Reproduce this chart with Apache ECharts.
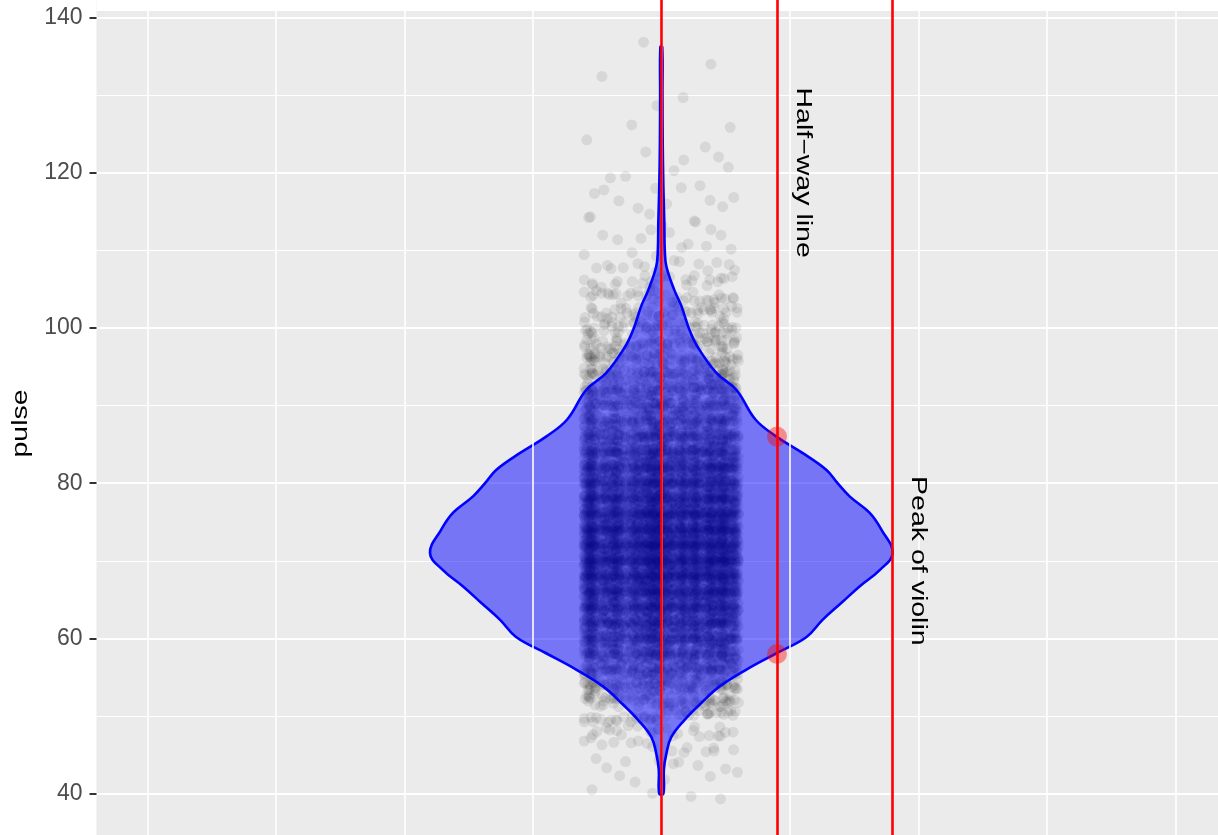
<!DOCTYPE html>
<html>
<head>
<meta charset="utf-8">
<script src="https://cdn.jsdelivr.net/npm/echarts@6/dist/echarts.min.js"></script>
<style>
  html, body { margin: 0; padding: 0; background: #fff; }
  #chart { width: 1218px; height: 835px; }
</style>
</head>
<body>
<div id="chart"></div>
<script>
// violin outline: pulse level and relative width (1 = widest point)
const violinPulse = [40, 43.1, 45.2, 47.3, 49.5, 51.7, 53.8, 56.0, 58.1, 60.2, 62.4, 64.6, 66.7, 68.8, 71.0,
  74.0, 76.2, 78.3, 80.0, 81.7, 83.9, 86.0, 88.2, 92.0, 94.2, 97.6, 99.8, 102.8, 104.9, 107.9, 110,
  113.5, 118, 124, 130, 136.2]
const violinDensity = [0.009, 0.011, 0.022, 0.043, 0.100, 0.173, 0.251, 0.368, 0.498, 0.628, 0.697, 0.779,
  0.857, 0.944, 1.000, 0.952, 0.900, 0.814, 0.762, 0.714, 0.610, 0.498, 0.407, 0.325, 0.238, 0.156,
  0.121, 0.087, 0.056, 0.022, 0.015, 0.013, 0.009, 0.006, 0.005, 0.004]

// jittered observations: pulse value and how many at that value (estimated)
const pulseBins = [40, 42, 44, 46, 48, 50, 52, 54, 56, 58, 60, 62, 64, 66, 68, 70, 72, 74, 76, 78, 80,
  82, 84, 86, 88, 90, 92, 94, 96, 98, 100, 102, 104, 106, 108, 110, 112, 114, 116, 118, 120, 122, 124,
  126, 128, 130, 132, 134, 136]
const binCounts = [4, 5, 8, 14, 25, 45, 80, 120, 175, 235, 295, 330, 370, 410, 450, 480, 470, 455, 430,
  390, 365, 340, 290, 240, 195, 170, 150, 115, 90, 75, 65, 50, 38, 25, 14, 7, 7, 6, 6, 5, 4, 3, 2, 2,
  1, 1, 1, 1, 1]

// fixed jitter offsets (fractions of jitter width / height)
const xJit = [-0.93, 0.41, -0.12, 0.78, -0.55, 0.05, 0.97, -0.33, 0.62, -0.71, 0.24, -0.86, 0.49, -0.04,
  0.85, -0.47, 0.16, -0.64, 0.71, -0.21, 0.33, -0.99, 0.57, -0.38, 0.92, -0.08, 0.28, -0.77, 0.66,
  -0.27, 0.11, -0.59, 0.8, -0.16, 0.44, -0.9, 0.0]
const xFine = [0.021, -0.013, 0.004, -0.025, 0.017, -0.006, 0.011, -0.019, 0.027, -0.001, -0.028]
const xFine2 = [0.009, -0.011, 0.002, 0.013, -0.007, -0.002, 0.006]
const yJit = [0.62, -0.35, 0.08, -0.88, 0.45, -0.12, 0.91, -0.6, 0.27, -0.77, 0.02, 0.74, -0.43, 0.36,
  -0.95, 0.18, -0.24, 0.83, -0.52, 0.54, -0.05, 0.97, -0.69]
const yFine = [0.04, -0.07, 0.01, 0.08, -0.03, -0.09, 0.06, -0.01, 0.03, -0.05, 0.09, -0.06, 0.0]

const groupX = 1
const violinHalf = 0.45
const jitterW = 0.15
const jitterH = 0.8

const xGridValues = [0, 0.25, 0.5, 0.75, 1, 1.25, 1.5, 1.75, 2]
const redLineX = [1, 1.225, 1.45]
const halfPoints = [[1.225, 86], [1.225, 58]]
const annotations = [[1.275, 120, 'Half−way line'], [1.5, 70, 'Peak of violin']]

const FONT = 'Liberation Sans, Arial, Helvetica, sans-serif'

const clamp1 = v => Math.max(-1, Math.min(1, v))
const jitterData = []
let g = 0
pulseBins.forEach((v, i) => {
  for (let k = 0; k < binCounts[i]; k++) {
    const dx = xJit[g % xJit.length] + xFine[g % xFine.length] + xFine2[g % xFine2.length]
    const dy = yJit[g % yJit.length] + yFine[g % yFine.length]
    jitterData.push([groupX + jitterW * clamp1(dx), v + jitterH * clamp1(dy)])
    g++
  }
})

const myChart = echarts.init(document.getElementById('chart'))

const option = {
  animation: false,
  grid: {
    show: true,
    backgroundColor: '#ebebeb',
    borderWidth: 0,
    left: 96.5,
    right: 0,
    top: -138,
    bottom: -114.1,
    outerBoundsMode: 'none'
  },
  xAxis: {
    type: 'value',
    min: -0.0988,
    max: 2.083,
    show: false,
    splitLine: { show: false }
  },
  yAxis: {
    type: 'value',
    min: 20,
    max: 160,
    interval: 20,
    axisLine: { show: false, onZero: false },
    axisTick: { show: true, length: 7, lineStyle: { color: '#333333', width: 2 } },
    axisLabel: { fontSize: 23, color: '#4d4d4d', margin: 14, fontFamily: FONT },
    splitLine: { show: true, lineStyle: { color: '#ffffff', width: 2.2 } },
    minorTick: { show: false, splitNumber: 2 },
    minorSplitLine: { show: true, lineStyle: { color: '#ffffff', width: 1.1 } }
  },
  graphic: [
    {
      type: 'rect', x: 96.5, y: 0, z: 100,
      shape: { width: 1130, height: 11 },
      style: { fill: '#ffffff' }
    },
    {
      type: 'text', x: 21, y: 423.5, rotation: Math.PI / 2, scaleY: 0.75,
      style: { text: 'pulse', fontSize: 28.5, fontFamily: FONT, fill: '#000000', align: 'center', verticalAlign: 'middle' }
    }
  ],
  series: [
    {
      // vertical grid lines
      type: 'line', data: [], z: 1, silent: true,
      markLine: {
        silent: true, symbol: 'none', label: { show: false }, precision: 6,
        lineStyle: { color: '#ffffff', width: 1.6, type: 'solid' },
        data: xGridValues.map(v => ({ xAxis: v }))
      }
    },
    {
      type: 'scatter', z: 2, silent: true,
      symbol: 'circle', symbolSize: 11,
      itemStyle: { color: 'rgba(0,0,0,0.1)' },
      data: jitterData
    },
    {
      type: 'custom', z: 3, silent: true,
      data: [0],
      renderItem: (params, api) => {
        const pts = []
        for (let i = 0; i < violinPulse.length; i++) {
          pts.push(api.coord([groupX + violinHalf * violinDensity[i], violinPulse[i]]))
        }
        for (let i = violinPulse.length - 1; i >= 0; i--) {
          pts.push(api.coord([groupX - violinHalf * violinDensity[i], violinPulse[i]]))
        }
        return {
          type: 'polygon',
          shape: { points: pts, smooth: 0.4 },
          style: { fill: 'rgba(0,0,255,0.5)', stroke: '#0000ff', lineWidth: 2.6, lineJoin: 'round' }
        }
      }
    },
    {
      type: 'line', data: [], z: 4, silent: true,
      markLine: {
        silent: true, symbol: 'none', label: { show: false }, precision: 6,
        lineStyle: { color: '#ff0000', width: 2.6, type: 'solid' },
        data: redLineX.map(v => ({ xAxis: v }))
      }
    },
    {
      type: 'scatter', z: 5, silent: true,
      symbol: 'circle', symbolSize: 20,
      itemStyle: { color: 'rgba(255,0,0,0.5)' },
      data: halfPoints
    },
    {
      type: 'custom', z: 6, silent: true,
      data: annotations,
      renderItem: (params, api) => {
        const p = api.coord([api.value(0), api.value(1)])
        return {
          type: 'text',
          x: p[0], y: p[1],
          rotation: -Math.PI / 2,
          scaleY: 0.75,
          style: {
            text: annotations[params.dataIndex][2],
            fontSize: 28.5, fontFamily: FONT, fill: '#000000',
            align: 'center', verticalAlign: 'middle'
          }
        }
      }
    }
  ]
}

option && myChart.setOption(option)
</script>
</body>
</html>
